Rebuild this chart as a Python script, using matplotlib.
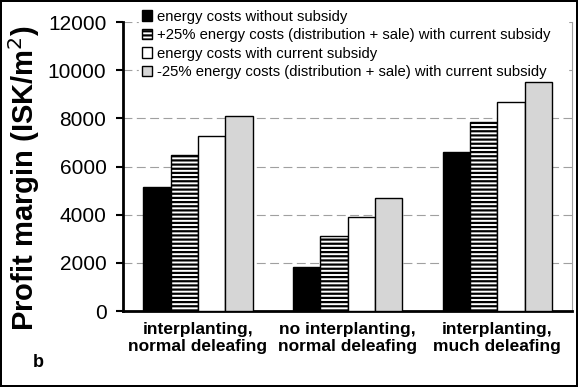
import matplotlib
matplotlib.use('Agg')
import numpy as np
from matplotlib import pyplot as plt

# --- data ---
categories = ['interplanting,\nnormal deleafing',
              'no interplanting,\nnormal deleafing',
              'interplanting,\nmuch deleafing']
series_names = ['energy costs without subsidy',
                '+25% energy costs (distribution + sale) with current subsidy',
                'energy costs with current subsidy',
                '-25% energy costs (distribution + sale) with current subsidy']
no_subsidy = [5150, 1830, 6600]
plus25 = [6470, 3110, 7840]
current = [7260, 3900, 8670]
minus25 = [8090, 4690, 9500]
yticks = [0, 2000, 4000, 6000, 8000, 10000, 12000]

# --- drawing ---
plt.rcParams['font.family'] = ['Liberation Sans', 'DejaVu Sans']
plt.rcParams['hatch.linewidth'] = 1.6

fig = plt.figure(figsize=(5.78, 3.87), dpi=100, linewidth=1.5, edgecolor='black')
ax = fig.add_axes([0.213, 0.196, 0.777, 0.747])

xx = np.arange(len(categories))
wid = 0.183
styles = [dict(color='black'),
          dict(facecolor='white', hatch='----'),
          dict(facecolor='white'),
          dict(facecolor='#d6d6d6')]
for i, (vals, nm, st) in enumerate(zip([no_subsidy, plus25, current, minus25], series_names, styles)):
    ax.bar(xx + (i - 1.5) * wid, vals, wid, label=nm, edgecolor='black',
           linewidth=1, zorder=3, **st)

ax.set_xlim(-0.5, 2.5)
ax.set_ylim(0, 12000)
ax.set_yticks(yticks)
ax.set_xticks(xx)
ax.set_xticklabels(categories, fontsize=12.5, fontweight='bold', linespacing=1.15)
ax.tick_params(axis='x', length=0, pad=8)
ax.tick_params(axis='y', labelsize=15, length=5, width=1.5, pad=7)
ax.yaxis.grid(True, color='#a0a0a0', linestyle=(0, (8, 4)), linewidth=0.8, zorder=0)

ax.spines['top'].set_visible(False)
ax.spines['right'].set_color('#a0a0a0')
ax.spines['right'].set_linewidth(0.8)
ax.spines['left'].set_linewidth(2)
ax.spines['bottom'].set_linewidth(2)

ax.set_ylabel('Profit margin (ISK/m$^2$)', fontsize=21, fontweight='bold')
ax.yaxis.set_label_coords(-0.181, 0.462)

leg = ax.legend(loc='upper left', bbox_to_anchor=(0.035, 0.75, 0.955, 0.303),
                mode='expand', fontsize=10.7,
                frameon=True, framealpha=1, edgecolor='white', fancybox=False,
                handlelength=0.7, handleheight=0.7, handletextpad=0.3,
                labelspacing=0.3, borderpad=0.2, borderaxespad=0)
leg.set_zorder(2)

fig.text(0.057, 0.052, 'b', fontsize=13, fontweight='bold')

fig.savefig('out.png', dpi=100)
